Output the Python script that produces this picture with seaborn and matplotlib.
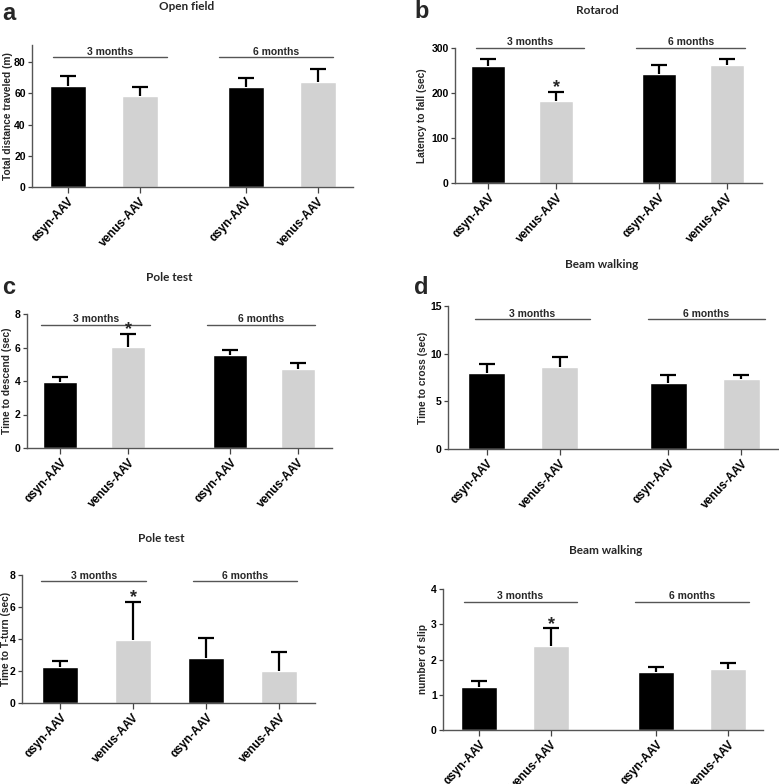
import numpy as np
import pandas as pd
import seaborn as sns
import matplotlib.pyplot as plt

# Datos (media y error superior)
conditions = ["αsyn-AAV", "venus-AAV", "αsyn-AAV", "venus-AAV"]
group_labels = ["3 months", "6 months"]

open_field_mean = [65.0, 58.0, 64.0, 67.5]
open_field_err = [6.0, 6.0, 6.0, 8.0]

rotarod_mean = [260.0, 182.0, 242.0, 261.5]
rotarod_err = [15.0, 21.0, 20.0, 13.5]

pole_descend_mean = [3.94, 6.03, 5.53, 4.72]
pole_descend_err = [0.28, 0.77, 0.32, 0.35]

beam_cross_mean = [8.02, 8.55, 6.90, 7.36]
beam_cross_err = [0.88, 1.05, 0.84, 0.45]

pole_turn_mean = [2.22, 3.95, 2.81, 2.02]
pole_turn_err = [0.42, 2.39, 1.26, 1.18]

beam_slip_mean = [1.21, 2.37, 1.64, 1.72]
beam_slip_err = [0.19, 0.51, 0.16, 0.18]

BLACK = "#000000"
GREY = "#d2d2d2"
palette = {"αsyn-AAV": BLACK, "venus-AAV": GREY}

sns.set_theme(style="ticks")
plt.rcParams["font.family"] = ["Liberation Sans", "DejaVu Sans"]
plt.rcParams["font.weight"] = "bold"
plt.rcParams["axes.labelweight"] = "bold"

W, H = 779, 784
fig = plt.figure(figsize=(W / 100, H / 100), dpi=100)


def add_axes(left, right, top, bottom):
    ax = fig.add_axes([left / W, 1 - bottom / H, (right - left) / W, (bottom - top) / H])
    ax.px = (left, right)
    return ax


def panel(ax, pos, means, errs, ylim, yticks, ylabel, label_x, xlim, lines, line_y, stars=()):
    df = pd.DataFrame({"pos": pos, "value": means, "cond": conditions})
    sns.barplot(data=df, x="pos", y="value", hue="cond", palette=palette,
                native_scale=True, dodge=False, width=0.5, saturation=1,
                errorbar=None, legend=False, ax=ax)
    eb = ax.errorbar(pos, means, yerr=[np.zeros(len(means)), errs], fmt="none",
                     ecolor="black", elinewidth=1.6, capsize=6, capthick=1.6)
    # solo la barra de error superior
    for cap in eb.lines[1]:
        if np.allclose(cap.get_ydata(), means):
            cap.set_visible(False)
    ax.set_xlim(*xlim)
    ax.set_ylim(*ylim)
    ax.set_yticks(yticks)
    ax.set_xticks(pos)
    ax.set_xticklabels(conditions, rotation=47, ha="right", rotation_mode="anchor",
                       fontsize=8.5)
    ax.set_xlabel("")
    ax.set_ylabel(ylabel, fontsize=7.3)
    # label_x = centro de la etiqueta en pixeles; el ancla esta en su borde derecho
    left, right = ax.px
    ax.yaxis.set_label_coords((label_x + 5 - left) / (right - left), 0.5)
    ax.tick_params(axis="y", labelsize=7.5, length=3, width=0.9, colors="#444444",
                   labelcolor="black", pad=1.5)
    ax.tick_params(axis="x", length=4, width=0.9, colors="#444444",
                   labelcolor="black", pad=2)
    for s in ["top", "right"]:
        ax.spines[s].set_visible(False)
    for s in ["left", "bottom"]:
        ax.spines[s].set_color("#555555")
        ax.spines[s].set_linewidth(1.0)
    for (x0, x1), label in zip(lines, group_labels):
        ax.plot([x0, x1], [line_y, line_y], color="#555555", lw=1.0, clip_on=False)
        ax.annotate(label, xy=((x0 + x1) / 2, line_y), xytext=(0, 0.5),
                    textcoords="offset points", ha="center", va="bottom",
                    fontsize=7.5, fontweight="bold", annotation_clip=False)
    for i in stars:
        ax.annotate("*", xy=(pos[i], means[i] + errs[i]), xytext=(0, -3),
                    textcoords="offset points", ha="center", va="bottom",
                    fontsize=13, fontweight="bold", annotation_clip=False)


# a: Open field
ax_a = add_axes(32, 353, 45, 187)
panel(ax_a, [0, 1, 2.47, 3.47], open_field_mean, open_field_err, (0, 91), [0, 20, 40, 60, 80],
      "Total distance traveled (m)", 8, (-0.5, 3.96), [(-0.21, 1.375), (2.10, 3.68)], 83)

# b: Rotarod
ax_b = add_axes(455, 762, 48, 183)
panel(ax_b, [0, 1, 2.51, 3.51], rotarod_mean, rotarod_err, (0, 300), [0, 100, 200, 300],
      "Latency to fall (sec)", 422, (-0.49, 4.03), [(-0.18, 1.41), (2.18, 3.78)], 300,
      stars=[1])

# c: Pole test (descend)
ax_c = add_axes(27, 332, 314, 448)
panel(ax_c, [0, 1, 2.5, 3.5], pole_descend_mean, pole_descend_err, (0, 8), [0, 2, 4, 6, 8],
      "Time to descend (sec)", 7, (-0.49, 4.0), [(-0.28, 1.32), (2.16, 3.75)], 7.36,
      stars=[1])

# d: Beam walking (cross)
ax_d = add_axes(448, 778, 306, 449)
panel(ax_d, [0, 1, 2.49, 3.49], beam_cross_mean, beam_cross_err, (0, 15), [0, 5, 10, 15],
      "Time to cross (sec)", 423, (-0.53, 3.99), [(-0.16, 1.41), (2.21, 3.81)], 13.6)

# e: Pole test (T-turn)
ax_e = add_axes(22, 315, 575, 703)
panel(ax_e, [0, 1, 2, 3], pole_turn_mean, pole_turn_err, (0, 8), [0, 2, 4, 6, 8],
      "Time to T-turn (sec)", 6, (-0.52, 3.49), [(-0.26, 1.18), (1.82, 3.25)], 7.6,
      stars=[1])

# f: Beam walking (slips)
ax_f = add_axes(443, 763, 589, 730)
panel(ax_f, [0, 1, 2.46, 3.46], beam_slip_mean, beam_slip_err, (0, 4), [0, 1, 2, 3, 4],
      "number of slip", 423, (-0.5, 3.94), [(-0.21, 1.36), (2.17, 3.74)], 3.63, stars=[1])

# Titulos y letras de panel
title_font = dict(fontsize=8.5, fontweight="bold", family=["Lato", "DejaVu Sans"],
                  ha="center", va="center")
fig.text(187 / W, 1 - 6 / H, "Open field", **title_font)
fig.text(597 / W, 1 - 10 / H, "Rotarod", **title_font)
fig.text(169 / W, 1 - 277 / H, "Pole test", **title_font)
fig.text(602 / W, 1 - 265 / H, "Beam walking", **title_font)
fig.text(161 / W, 1 - 538 / H, "Pole test", **title_font)
fig.text(606 / W, 1 - 551 / H, "Beam walking", **title_font)

letter_font = dict(fontsize=17, fontweight="bold", ha="left", va="center")
fig.text(2 / W, 1 - 14 / H, "a", **letter_font)
fig.text(414 / W, 1 - 12 / H, "b", **letter_font)
fig.text(2 / W, 1 - 288 / H, "c", **letter_font)
fig.text(414 / W, 1 - 287 / H, "d", **letter_font)

fig.savefig("out.png", dpi=100)
